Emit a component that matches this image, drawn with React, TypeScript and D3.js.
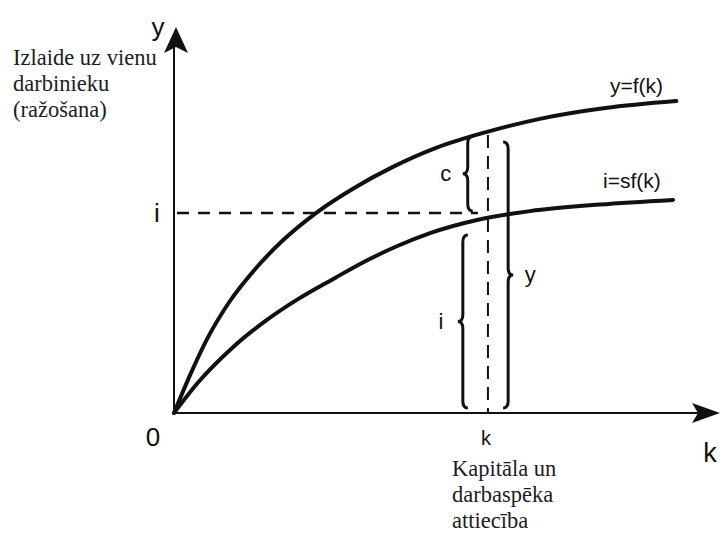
import React from "react";
import * as d3 from "d3";

// capital per worker (k) and output readings, in chart units (0..100)
const fK = [0, 3, 6, 10, 15, 20, 26, 33, 40, 48, 57, 67, 79, 92];
const fY = [0, 10, 19, 28.5, 37.5, 44.8, 51.8, 58.3, 63.7, 68.7, 72.7, 76.2, 79.0, 80.8];

const sfK = [0, 4.4, 10.6, 16.7, 22.7, 29.5, 34.6, 40.8, 46.9, 55.5, 65.2, 78.0, 91.4];
const sfY = [0, 7.9, 16.8, 23.8, 29.5, 35.0, 39.0, 43.2, 46.6, 50.0, 52.3, 54.0, 55.2];

// the marked capital level k and investment level i
const kStar = 57.5;
const iLevel = 51.8;
const kTop = 72;

// braces: label, k position, from / to, which way the tip points
const braceLabels = ["c", "i", "y"];
const braceK = [53.8, 52.9, 61.2];
const braceFrom = [71.6, 46.1, 70.2];
const braceTo = [52.3, 1.3, 1.3];
const braceDir = [-1, -1, 1];

const yTitle = ["Izlaide uz vienu", "darbinieku", "(ražošana)"];
const xTitle = ["Kapitāla un", "darbaspēka", "attiecība"];

const W = 722;
const H = 534;

const x = d3.scaleLinear().domain([0, 100]).range([174, 720]);
const y = d3.scaleLinear().domain([0, 100]).range([413, 27]);

const line = d3
  .line<[number, number]>()
  .x((d) => x(d[0]))
  .y((d) => y(d[1]))
  .curve(d3.curveMonotoneX);

// curly brace path, spine at sx, tip towards dir
function bracePath(sx: number, y1: number, y2: number, dir: number) {
  const a = 5;
  const r = 7;
  const ex = sx - dir * a;
  const tx = sx + dir * a;
  const ym = (y1 + y2) / 2;
  return (
    `M${ex},${y1} Q${sx},${y1} ${sx},${y1 + r} L${sx},${ym - r} ` +
    `Q${sx},${ym} ${tx},${ym} Q${sx},${ym} ${sx},${ym + r} ` +
    `L${sx},${y2 - r} Q${sx},${y2} ${ex},${y2}`
  );
}

const serif = "'Liberation Serif', 'DejaVu Serif', serif";
const sans = "'Liberation Sans', Arial, sans-serif";
const ink = "#111";

export default function App() {
  const fPts = fK.map((k, i) => [k, fY[i]] as [number, number]);
  const sfPts = sfK.map((k, i) => [k, sfY[i]] as [number, number]);
  const x0 = x(0);
  const y0 = y(0);
  const xEnd = x(100);
  const yEnd = y(100);

  return (
    <svg
      width={W}
      height={H}
      style={{ position: "absolute", left: 0, top: 0, background: "#fff" }}
    >
      {/* axes */}
      <line x1={x0} y1={y0} x2={xEnd - 20} y2={y0} stroke={ink} strokeWidth={2} />
      <path d={`M${xEnd},${y0} L${xEnd - 28},${y0 - 10} L${xEnd - 22},${y0} L${xEnd - 28},${y0 + 10} Z`} fill={ink} />
      <line x1={x0} y1={y0} x2={x0} y2={yEnd + 20} stroke={ink} strokeWidth={2} />
      <path d={`M${x0 + 2},${yEnd} L${x0 + 14},${yEnd + 26} L${x0 + 2},${yEnd + 20} L${x0 - 10},${yEnd + 26} Z`} fill={ink} />

      {/* guide lines */}
      <line
        x1={x0}
        y1={y(iLevel)}
        x2={x(kStar) - 10}
        y2={y(iLevel)}
        stroke={ink}
        strokeWidth={2.5}
        strokeDasharray="12 9"
        strokeDashoffset={-3}
      />
      <line
        x1={x(kStar)}
        y1={y(kTop)}
        x2={x(kStar)}
        y2={y0}
        stroke={ink}
        strokeWidth={2}
        strokeDasharray="13 8"
      />

      {/* curves */}
      <path d={line(fPts) ?? ""} fill="none" stroke={ink} strokeWidth={4} strokeLinecap="round" />
      <path d={line(sfPts) ?? ""} fill="none" stroke={ink} strokeWidth={4} strokeLinecap="round" />

      {/* braces */}
      {braceLabels.map((lab, i) => {
        const sx = x(braceK[i]);
        const y1 = y(braceFrom[i]);
        const y2 = y(braceTo[i]);
        const ym = (y1 + y2) / 2;
        return (
          <g key={lab}>
            <path d={bracePath(sx, y1, y2, braceDir[i])} fill="none" stroke={ink} strokeWidth={3} />
            <text
              x={sx + braceDir[i] * 22}
              y={ym + 7}
              textAnchor="middle"
              fontFamily={sans}
              fontSize={22}
              fill={ink}
            >
              {lab}
            </text>
          </g>
        );
      })}

      {/* curve labels */}
      <text x={610} y={93} fontFamily={sans} fontSize={21} fill={ink}>y=f(k)</text>
      <text x={603} y={188} fontFamily={sans} fontSize={21} fill={ink}>i=sf(k)</text>

      {/* axis labels */}
      <text x={158} y={36} textAnchor="middle" fontFamily={sans} fontSize={26} fill={ink}>y</text>
      <text x={710} y={462} textAnchor="middle" fontFamily={sans} fontSize={27} fill={ink}>k</text>
      <text x={153} y={446} textAnchor="middle" fontFamily={sans} fontSize={26} fill={ink}>0</text>
      <text x={157} y={222} textAnchor="middle" fontFamily={sans} fontSize={26} fill={ink}>i</text>
      <text x={x(kStar) - 2} y={445} textAnchor="middle" fontFamily={sans} fontSize={20} fill={ink}>k</text>

      {yTitle.map((t, i) => (
        <text key={t} x={13} y={65 + i * 26} fontFamily={serif} fontSize={22.5} fill="#1c1c24">
          {t}
        </text>
      ))}
      {xTitle.map((t, i) => (
        <text key={t} x={452} y={476 + i * 26} fontFamily={serif} fontSize={22.5} fill="#1c1c24">
          {t}
        </text>
      ))}
    </svg>
  );
}
